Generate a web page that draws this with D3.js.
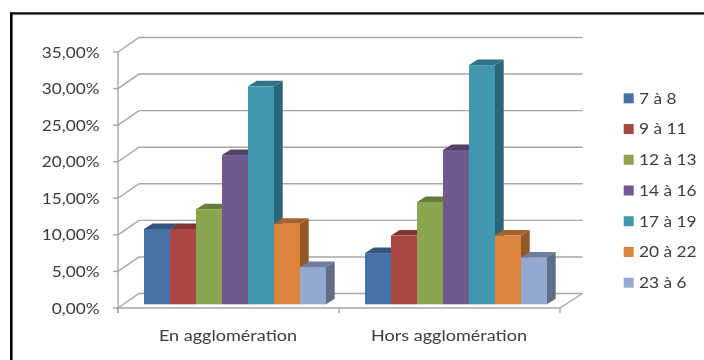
<!DOCTYPE html>
<html><head><meta charset="utf-8">
<script src="https://cdn.jsdelivr.net/npm/d3@7/dist/d3.min.js"></script>
<style>html,body{margin:0;padding:0;background:#fff}svg{display:block}</style></head>
<body><svg id="c" width="704" height="360"></svg>
<script>
const categories = ["En agglomération", "Hors agglomération"];
const series = ["7 à 8", "9 à 11", "12 à 13", "14 à 16", "17 à 19", "20 à 22", "23 à 6"];
const valuesEn = [10.3, 10.3, 13.0, 20.4, 29.8, 11.0, 5.1];
const valuesHors = [7.0, 9.4, 14.0, 21.1, 32.7, 9.4, 6.4];
const tickValues = [0, 5, 10, 15, 20, 25, 30, 35];
const frontColors = ["#4572a7", "#aa4643", "#89a54e", "#71588f", "#4198af", "#db843d", "#93a9cf"];
const topColors = ["#34557d", "#7f3432", "#667b3a", "#54416b", "#307183", "#a3622d", "#6e7e9b"];
const sideColors = ["#2f4d71", "#73302d", "#5d7035", "#4c3b61", "#2c6677", "#945928", "#5f6d87"];

const svg = d3.select("#c");
const font = "Lato,'Open Sans',sans-serif";
const gridCol = "#a6a6a6", textCol = "#3c3c3c";
const depth = {x: 21, y: -14.5}, barDepth = {x: 8.7, y: -5.5}, barLift = -3.7;

const defs = svg.append("defs");
defs.append("filter").attr("id", "soft").append("feGaussianBlur").attr("stdDeviation", 0.35);
const root = svg.append("g").attr("filter", "url(#soft)");

function stretched(sel, k) {
  const len = sel.node().getComputedTextLength();
  sel.attr("textLength", len * k).attr("lengthAdjust", "spacingAndGlyphs");
  return sel;
}

// only the top and the left edge of the frame are visible
root.append("rect").attr("x", 12).attr("y", 14).attr("width", 692).attr("height", 1.2).attr("fill", "#b5b5b5");
root.append("rect").attr("x", 10).attr("y", 12.3).attr("width", 694).attr("height", 2).attr("fill", "#000");
root.append("rect").attr("x", 10).attr("y", 12.3).attr("width", 2.6).attr("height", 347.7).attr("fill", "#000");

const y = d3.scaleLinear().domain([0, 35]).range([308, 52]);
const x0 = d3.scaleBand().domain(categories).range([118, 560]);
const x1 = d3.scaleBand().domain(series).range([26, 208]);

const grid = root.append("g").attr("fill", "none").attr("stroke", gridCol).attr("stroke-width", 1.4);
tickValues.forEach(t => {
  const yy = y(t);
  grid.append("path").attr("d", d3.line()([[118, yy], [118 + depth.x, yy + depth.y], [560 + depth.x + 1.5, yy + depth.y]]));
  grid.append("line").attr("x1", 113).attr("x2", 118).attr("y1", yy).attr("y2", yy);
  stretched(root.append("text").attr("x", 99.5).attr("y", yy + 5.5).attr("text-anchor", "end")
    .attr("font-family", font).attr("font-size", 14.5).attr("fill", textCol)
    .text(t.toFixed(2).replace(".", ",") + "%"), 1.19);
});
grid.append("line").attr("x1", 118).attr("x2", 118).attr("y1", y(35)).attr("y2", y(0) + 5);
grid.append("line").attr("x1", 118).attr("x2", 560).attr("y1", y(0)).attr("y2", y(0));
grid.append("path").attr("d", d3.line()([[560, y(0)], [560 + depth.x + 1.5, y(0) + depth.y]]));
[118, 339, 560].forEach(v => grid.append("line").attr("x1", v).attr("x2", v).attr("y1", y(0)).attr("y2", y(0) + 5));

function drawBars(cat, vals) {
  const g = root.append("g");
  const base = y(0) + barLift, w = x1.bandwidth();
  const order = vals.map((v, i) => i);
  order.forEach(i => {
    const l = x0(cat) + x1(series[i]), r = l + w, t = y(vals[i]) + barLift;
    g.append("path").attr("fill", topColors[i])
      .attr("d", d3.line()([[l, t], [l + barDepth.x, t + barDepth.y], [r + barDepth.x, t + barDepth.y], [r, t]]) + "Z");
    g.append("path").attr("fill", sideColors[i])
      .attr("d", d3.line()([[r, t], [r + barDepth.x, t + barDepth.y], [r + barDepth.x, base + barDepth.y], [r, base]]) + "Z");
  });
  order.forEach(i => {
    const l = x0(cat) + x1(series[i]), t = y(vals[i]) + barLift;
    g.append("rect").attr("x", l).attr("y", t).attr("width", w).attr("height", base - t).attr("fill", frontColors[i]);
  });
}
drawBars(categories[0], valuesEn);
drawBars(categories[1], valuesHors);

categories.forEach(c => {
  stretched(root.append("text").attr("x", x0(c) + x0.bandwidth() / 2 - 0.5).attr("y", 341).attr("text-anchor", "middle")
    .attr("font-family", font).attr("font-size", 14.5).attr("fill", textCol).text(c), 1.245);
});

const legendY = d3.scalePoint().domain(series).range([98.3, 282.7]);
series.forEach((s, i) => {
  const yy = legendY(s);
  root.append("rect").attr("x", 623.7).attr("y", yy - 5).attr("width", 10).attr("height", 10).attr("fill", frontColors[i]);
  stretched(root.append("text").attr("x", 639).attr("y", yy + 5.3).attr("font-family", font)
    .attr("font-size", 14.5).attr("fill", textCol).text(s), 1.19);
});
</script></body></html>
